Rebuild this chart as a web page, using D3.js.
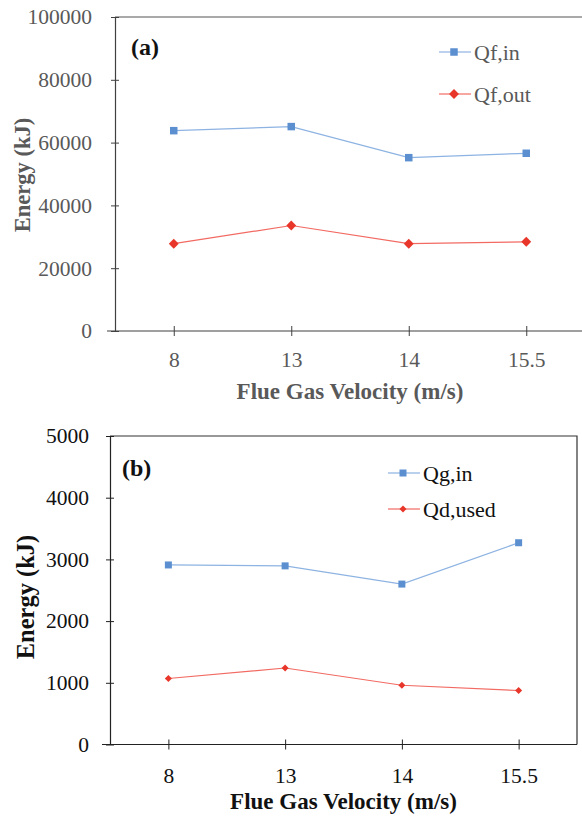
<!DOCTYPE html>
<html>
<head>
<meta charset="utf-8">
<script src="https://cdn.jsdelivr.net/npm/d3@7"></script>
<style>
  body { margin: 0; background: #fff; }
  svg { display: block; }
  svg text { font-family: "Liberation Serif", "DejaVu Serif", serif; }
</style>
</head>
<body>
<script>
// Flue gas velocity categories (m/s)
const velocities = ["8", "13", "14", "15.5"];

// panel (a)
const qfIn = [63800, 65100, 55200, 56600];
const qfOut = [27800, 33600, 27800, 28400];
const ticksA = [0, 20000, 40000, 60000, 80000, 100000];

// panel (b)
const qgIn = [2910, 2895, 2600, 3270];
const qdUsed = [1070, 1240, 960, 875];
const ticksB = [0, 1000, 2000, 3000, 4000, 5000];

const FONT = "Liberation Serif";
const BLUE = "#5b8fd0", BLUE_LINE = "#8db3e2";
const RED = "#e8362a", RED_LINE = "#f26a62";

const svg = d3.select("body").append("svg")
  .attr("width", 582).attr("height", 817)
  .attr("viewBox", "0 0 582 817")
  .attr("font-family", FONT);

function marker(g, shape, size, color) {
  // square, or a square turned 45 degrees for the diamond
  const p = g.append("path")
    .attr("d", d3.symbol(d3.symbolSquare, size * size)())
    .attr("fill", color);
  if (shape === "diamond") p.attr("transform", "rotate(45)");
  return p;
}

function drawPanel(cfg) {
  const x = d3.scalePoint().domain(velocities).range([cfg.left, cfg.right]).padding(0.5);
  const y = d3.scaleLinear().domain([0, cfg.yMax]).range([cfg.bottom, cfg.top]);
  const g = svg.append("g");

  // frame: top and right edges
  g.append("path")
    .attr("d", `M${cfg.left},${cfg.top}H${cfg.right}V${cfg.bottom}`)
    .attr("fill", "none").attr("stroke", cfg.frame).attr("stroke-width", 1.2);

  // y axis, ticks cross the line
  const ya = g.append("g")
    .attr("transform", `translate(${cfg.left},0)`)
    .call(d3.axisLeft(y).tickValues(cfg.ticks).tickSize(4).tickSizeOuter(0)
      .tickPadding(cfg.yPad).tickFormat(d3.format("d")));
  ya.attr("font-family", FONT).attr("font-size", 21.5);
  ya.selectAll(".tick line").attr("x1", 4).attr("stroke", cfg.axis);
  ya.select(".domain").attr("stroke", cfg.axis).attr("stroke-width", 1.2);
  ya.selectAll("text").attr("fill", cfg.text).style("font-family", FONT);

  // x axis
  const xa = g.append("g")
    .attr("transform", `translate(0,${cfg.bottom})`)
    .call(d3.axisBottom(x).tickSize(5).tickSizeOuter(0).tickPadding(cfg.xPad));
  xa.attr("font-family", FONT).attr("font-size", 21.5);
  xa.selectAll(".tick line").attr("y1", -5).attr("stroke", cfg.axis);
  xa.select(".domain").attr("stroke", cfg.axis).attr("stroke-width", 1.2)
    .attr("d", `M${cfg.left - 8},0H${cfg.right}`);
  xa.selectAll("text").attr("fill", cfg.text).style("font-family", FONT);

  // axis titles
  g.append("text")
    .attr("x", (cfg.left + cfg.right) / 2).attr("y", cfg.xTitleY)
    .attr("text-anchor", "middle").attr("font-weight", "bold")
    .attr("font-size", 23).attr("fill", cfg.text)
    .style("font-family", FONT)
    .text("Flue Gas Velocity (m/s)");
  g.append("text")
    .attr("transform", `translate(${cfg.yTitleX},${cfg.yTitleY}) rotate(-90)`)
    .attr("text-anchor", "middle").attr("font-weight", "bold")
    .attr("font-size", cfg.yTitleSize).attr("fill", cfg.text)
    .style("font-family", FONT)
    .text("Energy (kJ)");

  // panel tag
  g.append("text")
    .attr("x", cfg.tagX).attr("y", cfg.tagY)
    .attr("font-weight", "bold").attr("font-size", 24).attr("fill", "#111")
    .style("font-family", FONT)
    .text(cfg.tag);

  // series
  const line = d3.line().x((d, i) => x(velocities[i])).y(d => y(d));
  cfg.series.forEach((s, k) => {
    g.append("path").attr("d", line(s.values))
      .attr("fill", "none").attr("stroke", s.lineColor).attr("stroke-width", 1.2);
    s.values.forEach((v, i) => {
      const m = g.append("g").attr("transform", `translate(${x(velocities[i])},${y(v)})`);
      marker(m, s.shape, s.size, s.color);
    });

    // legend entry
    const ly = cfg.legendY[k];
    const lg = g.append("g").attr("transform", `translate(${cfg.legendX},${ly})`);
    lg.append("line").attr("x1", 0).attr("x2", 32)
      .attr("stroke", s.lineColor).attr("stroke-width", 1.2);
    const lm = lg.append("g").attr("transform", "translate(15,0)");
    marker(lm, s.shape, s.size, s.color);
    lg.append("text").attr("x", 35).attr("y", 7.5)
      .attr("font-size", 22).attr("fill", cfg.text)
      .style("font-family", FONT)
      .text(s.name);
  });
}

drawPanel({
  left: 115, right: 585, top: 17, bottom: 331, yMax: 100000, ticks: ticksA,
  yPad: 19, xPad: 16, frame: "#555", axis: "#404040", text: "#595959",
  xTitleY: 399, yTitleX: 29.5, yTitleY: 175, yTitleSize: 22.5,
  tag: "(a)", tagX: 131, tagY: 55,
  legendX: 439, legendY: [52, 94],
  series: [
    { name: "Qf,in", values: qfIn, shape: "square", size: 7.5, color: BLUE, lineColor: BLUE_LINE },
    { name: "Qf,out", values: qfOut, shape: "diamond", size: 7, color: RED, lineColor: RED_LINE }
  ]
});

drawPanel({
  left: 110, right: 577, top: 436, bottom: 744.5, yMax: 5000, ticks: ticksB,
  yPad: 17, xPad: 18, frame: "#333", axis: "#222", text: "#111",
  xTitleY: 809, yTitleX: 33.5, yTitleY: 597, yTitleSize: 24.5,
  tag: "(b)", tagX: 122, tagY: 476,
  legendX: 388, legendY: [473, 509],
  series: [
    { name: "Qg,in", values: qgIn, shape: "square", size: 7, color: BLUE, lineColor: BLUE_LINE },
    { name: "Qd,used", values: qdUsed, shape: "diamond", size: 5, color: RED, lineColor: RED_LINE }
  ]
});
</script>
</body>
</html>
